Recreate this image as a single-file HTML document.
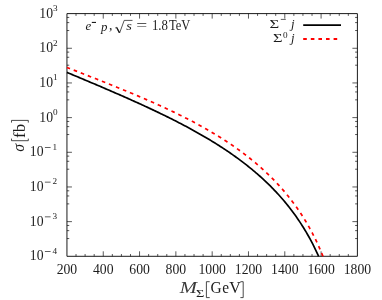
<!DOCTYPE html>
<html><head><meta charset="utf-8"><title>plot</title>
<style>html,body{margin:0;padding:0;background:#fff;overflow:hidden}body{width:382px;height:300px;position:relative;font-family:"Liberation Serif",serif}</style></head>
<body>
<svg width="382" height="300" viewBox="0 0 382 300" style="position:absolute;left:0;top:0;will-change:transform" font-family="Liberation Serif" fill="#1c1c1c">
<rect x="0" y="0" width="382" height="300" fill="#fff"/>
<path d="M76.03 256.30 v-2.3 M76.03 13.60 v2.3 M85.10 256.30 v-2.3 M85.10 13.60 v2.3 M94.18 256.30 v-2.3 M94.18 13.60 v2.3 M103.26 256.30 v-5 M103.26 13.60 v5 M112.33 256.30 v-2.3 M112.33 13.60 v2.3 M121.41 256.30 v-2.3 M121.41 13.60 v2.3 M130.49 256.30 v-2.3 M130.49 13.60 v2.3 M139.56 256.30 v-5 M139.56 13.60 v5 M148.64 256.30 v-2.3 M148.64 13.60 v2.3 M157.72 256.30 v-2.3 M157.72 13.60 v2.3 M166.79 256.30 v-2.3 M166.79 13.60 v2.3 M175.87 256.30 v-5 M175.87 13.60 v5 M184.95 256.30 v-2.3 M184.95 13.60 v2.3 M194.02 256.30 v-2.3 M194.02 13.60 v2.3 M203.10 256.30 v-2.3 M203.10 13.60 v2.3 M212.18 256.30 v-5 M212.18 13.60 v5 M221.25 256.30 v-2.3 M221.25 13.60 v2.3 M230.33 256.30 v-2.3 M230.33 13.60 v2.3 M239.40 256.30 v-2.3 M239.40 13.60 v2.3 M248.48 256.30 v-5 M248.48 13.60 v5 M257.56 256.30 v-2.3 M257.56 13.60 v2.3 M266.63 256.30 v-2.3 M266.63 13.60 v2.3 M275.71 256.30 v-2.3 M275.71 13.60 v2.3 M284.79 256.30 v-5 M284.79 13.60 v5 M293.86 256.30 v-2.3 M293.86 13.60 v2.3 M302.94 256.30 v-2.3 M302.94 13.60 v2.3 M312.02 256.30 v-2.3 M312.02 13.60 v2.3 M321.09 256.30 v-5 M321.09 13.60 v5 M330.17 256.30 v-2.3 M330.17 13.60 v2.3 M339.25 256.30 v-2.3 M339.25 13.60 v2.3 M348.32 256.30 v-2.3 M348.32 13.60 v2.3 M66.95 17.44 h2.3 M357.40 17.44 h-2.3 M66.95 22.60 h2.3 M357.40 22.60 h-2.3 M66.95 30.52 h2.3 M357.40 30.52 h-2.3 M66.95 48.27 h5 M357.40 48.27 h-5 M66.95 52.11 h2.3 M357.40 52.11 h-2.3 M66.95 57.27 h2.3 M357.40 57.27 h-2.3 M66.95 65.20 h2.3 M357.40 65.20 h-2.3 M66.95 82.94 h5 M357.40 82.94 h-5 M66.95 86.78 h2.3 M357.40 86.78 h-2.3 M66.95 91.94 h2.3 M357.40 91.94 h-2.3 M66.95 99.87 h2.3 M357.40 99.87 h-2.3 M66.95 117.61 h5 M357.40 117.61 h-5 M66.95 121.45 h2.3 M357.40 121.45 h-2.3 M66.95 126.62 h2.3 M357.40 126.62 h-2.3 M66.95 134.54 h2.3 M357.40 134.54 h-2.3 M66.95 152.29 h5 M357.40 152.29 h-5 M66.95 156.12 h2.3 M357.40 156.12 h-2.3 M66.95 161.29 h2.3 M357.40 161.29 h-2.3 M66.95 169.21 h2.3 M357.40 169.21 h-2.3 M66.95 186.96 h5 M357.40 186.96 h-5 M66.95 190.80 h2.3 M357.40 190.80 h-2.3 M66.95 195.96 h2.3 M357.40 195.96 h-2.3 M66.95 203.88 h2.3 M357.40 203.88 h-2.3 M66.95 221.63 h5 M357.40 221.63 h-5 M66.95 225.47 h2.3 M357.40 225.47 h-2.3 M66.95 230.63 h2.3 M357.40 230.63 h-2.3 M66.95 238.55 h2.3 M357.40 238.55 h-2.3" stroke="#000" stroke-width="0.65" fill="none" />
<path d="M66.95 13.60 H357.40 V256.30 H66.95 Z" stroke="#000" stroke-width="0.9" fill="none" />
<path d="M66.95 72.38 L68.27 72.94 L69.59 73.49 L70.92 74.05 L72.24 74.61 L73.56 75.16 L74.88 75.72 L76.20 76.27 L77.52 76.83 L78.85 77.38 L80.17 77.94 L81.49 78.50 L82.81 79.05 L84.13 79.61 L85.46 80.17 L86.78 80.73 L88.10 81.29 L89.42 81.85 L90.74 82.41 L92.07 82.97 L93.39 83.53 L94.71 84.09 L96.03 84.65 L97.35 85.21 L98.67 85.78 L100.00 86.34 L101.32 86.90 L102.64 87.47 L103.96 88.04 L105.28 88.60 L106.61 89.17 L107.93 89.74 L109.25 90.31 L110.57 90.88 L111.89 91.45 L113.22 92.02 L114.54 92.60 L115.86 93.17 L117.18 93.75 L118.50 94.32 L119.82 94.90 L121.15 95.48 L122.47 96.06 L123.79 96.64 L125.11 97.23 L126.43 97.81 L127.76 98.40 L129.08 98.98 L130.40 99.57 L131.72 100.16 L133.04 100.76 L134.36 101.35 L135.69 101.95 L137.01 102.54 L138.33 103.14 L139.65 103.74 L140.97 104.35 L142.30 104.95 L143.62 105.56 L144.94 106.17 L146.26 106.78 L147.58 107.39 L148.91 108.01 L150.23 108.62 L151.55 109.24 L152.87 109.87 L154.19 110.49 L155.51 111.12 L156.84 111.75 L158.16 112.38 L159.48 113.02 L160.80 113.65 L162.12 114.29 L163.45 114.94 L164.77 115.58 L166.09 116.23 L167.41 116.88 L168.73 117.54 L170.06 118.20 L171.38 118.86 L172.70 119.52 L174.02 120.19 L175.34 120.86 L176.66 121.54 L177.99 122.22 L179.31 122.90 L180.63 123.59 L181.95 124.28 L183.27 124.97 L184.60 125.67 L185.92 126.37 L187.24 127.08 L188.56 127.79 L189.88 128.51 L191.20 129.22 L192.53 129.95 L193.85 130.68 L195.17 131.41 L196.49 132.15 L197.81 132.89 L199.14 133.64 L200.46 134.40 L201.78 135.16 L203.10 135.92 L204.42 136.69 L205.75 137.47 L207.07 138.25 L208.39 139.04 L209.71 139.83 L211.03 140.63 L212.35 141.44 L213.68 142.25 L215.00 143.07 L216.32 143.90 L217.64 144.73 L218.96 145.57 L220.29 146.42 L221.61 147.27 L222.93 148.14 L224.25 149.01 L225.57 149.89 L226.89 150.77 L228.22 151.67 L229.54 152.57 L230.86 153.48 L232.18 154.40 L233.50 155.33 L234.83 156.27 L236.15 157.22 L237.47 158.18 L238.79 159.15 L240.11 160.13 L241.44 161.12 L242.76 162.12 L244.08 163.13 L245.40 164.16 L246.72 165.19 L248.04 166.24 L249.37 167.30 L250.69 168.37 L252.01 169.45 L253.33 170.55 L254.65 171.67 L255.98 172.79 L257.30 173.93 L258.62 175.09 L259.94 176.26 L261.26 177.44 L262.59 178.65 L263.91 179.87 L265.23 181.10 L266.55 182.36 L267.87 183.63 L269.19 184.92 L270.52 186.23 L271.84 187.56 L273.16 188.91 L274.48 190.29 L275.80 191.68 L277.13 193.10 L278.45 194.54 L279.77 196.00 L281.09 197.49 L282.41 199.01 L283.73 200.55 L285.06 202.13 L286.38 203.73 L287.70 205.36 L289.02 207.02 L290.34 208.71 L291.67 210.44 L292.99 212.21 L294.31 214.01 L295.63 215.85 L296.95 217.73 L298.28 219.65 L299.60 221.61 L300.92 223.62 L302.24 225.68 L303.56 227.79 L304.88 229.95 L306.21 232.17 L307.53 234.45 L308.85 236.78 L310.17 239.19 L311.49 241.66 L312.82 244.20 L314.14 246.82 L315.46 249.52 L316.78 252.31 L318.10 255.20 L318.60 256.30" stroke="#000" stroke-width="1.7" fill="none" stroke-linejoin="round"/>
<path d="M66.95 67.44 L68.30 67.97 L69.64 68.49 L70.99 69.02 L72.34 69.55 L73.68 70.08 L75.03 70.60 L76.38 71.13 L77.73 71.66 L79.07 72.19 L80.42 72.72 L81.77 73.25 L83.11 73.77 L84.46 74.30 L85.81 74.83 L87.15 75.36 L88.50 75.89 L89.85 76.42 L91.20 76.95 L92.54 77.48 L93.89 78.02 L95.24 78.55 L96.58 79.08 L97.93 79.62 L99.28 80.15 L100.62 80.68 L101.97 81.22 L103.32 81.76 L104.67 82.29 L106.01 82.83 L107.36 83.37 L108.71 83.91 L110.05 84.45 L111.40 85.00 L112.75 85.54 L114.09 86.08 L115.44 86.63 L116.79 87.17 L118.14 87.72 L119.48 88.27 L120.83 88.82 L122.18 89.37 L123.52 89.93 L124.87 90.48 L126.22 91.04 L127.56 91.60 L128.91 92.16 L130.26 92.72 L131.61 93.28 L132.95 93.84 L134.30 94.41 L135.65 94.98 L136.99 95.55 L138.34 96.12 L139.69 96.70 L141.03 97.27 L142.38 97.85 L143.73 98.43 L145.08 99.02 L146.42 99.60 L147.77 100.19 L149.12 100.78 L150.46 101.37 L151.81 101.97 L153.16 102.56 L154.50 103.16 L155.85 103.77 L157.20 104.37 L158.54 104.98 L159.89 105.60 L161.24 106.21 L162.59 106.83 L163.93 107.45 L165.28 108.07 L166.63 108.70 L167.97 109.33 L169.32 109.97 L170.67 110.61 L172.01 111.25 L173.36 111.89 L174.71 112.54 L176.06 113.20 L177.40 113.85 L178.75 114.52 L180.10 115.18 L181.44 115.85 L182.79 116.52 L184.14 117.20 L185.48 117.89 L186.83 118.57 L188.18 119.27 L189.53 119.96 L190.87 120.66 L192.22 121.37 L193.57 122.08 L194.91 122.80 L196.26 123.52 L197.61 124.25 L198.95 124.99 L200.30 125.73 L201.65 126.47 L203.00 127.22 L204.34 127.98 L205.69 128.74 L207.04 129.51 L208.38 130.29 L209.73 131.07 L211.08 131.86 L212.42 132.66 L213.77 133.46 L215.12 134.27 L216.47 135.09 L217.81 135.92 L219.16 136.75 L220.51 137.59 L221.85 138.44 L223.20 139.30 L224.55 140.17 L225.89 141.04 L227.24 141.92 L228.59 142.82 L229.94 143.72 L231.28 144.63 L232.63 145.55 L233.98 146.48 L235.32 147.42 L236.67 148.37 L238.02 149.34 L239.36 150.31 L240.71 151.29 L242.06 152.29 L243.41 153.30 L244.75 154.31 L246.10 155.35 L247.45 156.39 L248.79 157.45 L250.14 158.52 L251.49 159.60 L252.83 160.70 L254.18 161.81 L255.53 162.94 L256.87 164.08 L258.22 165.24 L259.57 166.41 L260.92 167.60 L262.26 168.81 L263.61 170.03 L264.96 171.27 L266.30 172.53 L267.65 173.81 L269.00 175.11 L270.34 176.43 L271.69 177.77 L273.04 179.13 L274.39 180.51 L275.73 181.92 L277.08 183.35 L278.43 184.81 L279.77 186.28 L281.12 187.79 L282.47 189.32 L283.81 190.88 L285.16 192.47 L286.51 194.09 L287.86 195.75 L289.20 197.43 L290.55 199.15 L291.90 200.90 L293.24 202.69 L294.59 204.52 L295.94 206.39 L297.28 208.29 L298.63 210.25 L299.98 212.24 L301.33 214.29 L302.67 216.38 L304.02 218.53 L305.37 220.73 L306.71 222.99 L308.06 225.31 L309.41 227.70 L310.75 230.15 L312.10 232.68 L313.45 235.28 L314.80 237.96 L316.14 240.72 L317.49 243.58 L318.84 246.54 L320.18 249.59 L321.53 252.77 L322.88 256.06 L322.97 256.30" stroke="#f00" stroke-width="1.7" fill="none" stroke-dasharray="3.6 3.97" stroke-dashoffset="0.3" stroke-linejoin="round"/>
<path d="M303.2 25.15 H341" stroke="#000" stroke-width="1.8" fill="none" />
<path d="M303.2 39 H341" stroke="#f00" stroke-width="1.8" fill="none" stroke-dasharray="3.6 4.0"/>
<text x="53.00" y="17.50" font-size="13.7" text-anchor="end">10</text>
<text x="57.60" y="10.90" font-size="9.2" text-anchor="end">3</text>
<text x="53.00" y="52.17" font-size="13.7" text-anchor="end">10</text>
<text x="57.60" y="45.57" font-size="9.2" text-anchor="end">2</text>
<text x="53.00" y="86.84" font-size="13.7" text-anchor="end">10</text>
<text x="57.60" y="80.24" font-size="9.2" text-anchor="end">1</text>
<text x="53.00" y="121.51" font-size="13.7" text-anchor="end">10</text>
<text x="57.60" y="114.91" font-size="9.2" text-anchor="end">0</text>
<text x="43.50" y="156.19" font-size="13.7" text-anchor="end">10</text>
<path d="M44.9 147.49 H50.6" stroke="#1c1c1c" stroke-width="0.7" fill="none" />
<text x="57.20" y="149.59" font-size="9.2" text-anchor="end">1</text>
<text x="43.50" y="190.86" font-size="13.7" text-anchor="end">10</text>
<path d="M44.9 182.16 H50.6" stroke="#1c1c1c" stroke-width="0.7" fill="none" />
<text x="57.20" y="184.26" font-size="9.2" text-anchor="end">2</text>
<text x="43.50" y="225.53" font-size="13.7" text-anchor="end">10</text>
<path d="M44.9 216.83 H50.6" stroke="#1c1c1c" stroke-width="0.7" fill="none" />
<text x="57.20" y="218.93" font-size="9.2" text-anchor="end">3</text>
<text x="43.50" y="260.20" font-size="13.7" text-anchor="end">10</text>
<path d="M44.9 251.50 H50.6" stroke="#1c1c1c" stroke-width="0.7" fill="none" />
<text x="57.20" y="253.60" font-size="9.2" text-anchor="end">4</text>
<text x="66.95" y="273.80" font-size="13.7" text-anchor="middle">200</text>
<text x="103.26" y="273.80" font-size="13.7" text-anchor="middle">400</text>
<text x="139.56" y="273.80" font-size="13.7" text-anchor="middle">600</text>
<text x="175.87" y="273.80" font-size="13.7" text-anchor="middle">800</text>
<text x="212.18" y="273.80" font-size="13.7" text-anchor="middle">1000</text>
<text x="248.48" y="273.80" font-size="13.7" text-anchor="middle">1200</text>
<text x="284.79" y="273.80" font-size="13.7" text-anchor="middle">1400</text>
<text x="321.09" y="273.80" font-size="13.7" text-anchor="middle">1600</text>
<text x="357.40" y="273.80" font-size="13.7" text-anchor="middle">1800</text>
<text x="179.8" y="293.4" font-size="16" font-style="italic" fill="#3a3a3a" textLength="17.2" lengthAdjust="spacingAndGlyphs">M</text>
<text x="196.00" y="296.90" font-size="9.8" textLength="8.30" lengthAdjust="spacingAndGlyphs">Σ</text>
<path d="M209.7 281.7 H206.4 V297.6 H209.7" stroke="#1c1c1c" stroke-width="0.8" fill="none" />
<text x="210.40" y="293.40" font-size="16" textLength="11.20" lengthAdjust="spacingAndGlyphs">G</text>
<text x="222.30" y="293.40" font-size="16" textLength="6.80" lengthAdjust="spacingAndGlyphs">e</text>
<text x="229.20" y="293.40" font-size="16" textLength="11.60" lengthAdjust="spacingAndGlyphs">V</text>
<path d="M240.4 281.7 H243.2 V297.6 H240.4" stroke="#1c1c1c" stroke-width="0.8" fill="none" />
<g transform="translate(24.6 151.2) rotate(-90)">
<text x="-0.60" y="-0.80" font-size="16" font-style="italic" textLength="7.80" lengthAdjust="spacingAndGlyphs">σ</text>
<path d="M12.6 -13.1 H10.5 V3.7 H12.6" stroke="#1c1c1c" stroke-width="0.8" fill="none" />
<text x="13.30" y="0.00" font-size="16" textLength="14.00" lengthAdjust="spacingAndGlyphs">fb</text>
<path d="M28.6 -13.1 H30.8 V3.7 H28.6" stroke="#1c1c1c" stroke-width="0.8" fill="none" />
</g>
<text x="85.50" y="30.40" font-size="12.9" font-style="italic">e</text>
<path d="M91.8 22.4 H96.0" stroke="#000" stroke-width="1.0" fill="none" />
<text x="101.00" y="30.60" font-size="12.9" font-style="italic">p</text>
<text x="108.90" y="30.40" font-size="13.7">,</text>
<path d="M115.2 28.0 L116.6 27.3 L119.6 33.0 L124.2 20.4 H132.5" stroke="#1c1c1c" stroke-width="0.75" fill="none" />
<path d="M116.7 27.5 L119.4 32.6" stroke="#1c1c1c" stroke-width="1.3" fill="none" />
<text x="126.30" y="30.40" font-size="12.9" font-style="italic" textLength="5.60" lengthAdjust="spacingAndGlyphs">s</text>
<text x="136.20" y="30.40" font-size="13.7" textLength="11.00" lengthAdjust="spacingAndGlyphs">=</text>
<text x="151.90" y="30.40" font-size="13.7" textLength="16.00" lengthAdjust="spacingAndGlyphs">1.8</text>
<text x="169.00" y="30.40" font-size="13.7" textLength="21.30" lengthAdjust="spacingAndGlyphs">TeV</text>
<text x="269.50" y="28.30" font-size="12.8" textLength="9.70" lengthAdjust="spacingAndGlyphs">Σ</text>
<path d="M280.8 19.4 H285.8" stroke="#1c1c1c" stroke-width="0.7" fill="none" />
<text x="291.10" y="28.30" font-size="12.8" font-style="italic">j</text>
<text x="272.90" y="41.60" font-size="12.8" textLength="9.50" lengthAdjust="spacingAndGlyphs">Σ</text>
<text x="282.90" y="37.60" font-size="9.2">0</text>
<text x="291.10" y="41.60" font-size="12.8" font-style="italic">j</text>
</svg>
</body></html>
